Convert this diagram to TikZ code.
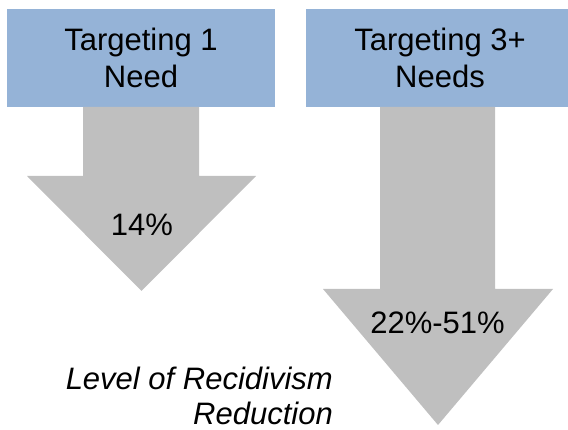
\documentclass[tikz,border=0pt]{standalone}
\usepackage{fontspec}
\setmainfont{Liberation Sans}
\usetikzlibrary{positioning}
\definecolor{needblue}{HTML}{95B3D7}
\definecolor{cutgrey}{HTML}{BFBFBF}
\begin{document}
\begin{tikzpicture}[x=1pt,y=-1pt]
	\tikzset{
		needbox/.style={fill=needblue,minimum width=268pt,minimum height=98pt,inner sep=0pt,align=center,font=\fontsize{31}{37}\selectfont},
		pct/.style={inner sep=0pt,anchor=base,font=\fontsize{31}{36}\selectfont},
		downarrow/.style={fill=cutgrey},
	}
	\useasboundingbox (0,0) rectangle (568,430);
	\node[needbox] (one) at (141,58) {Targeting 1\\Need};
	\node[needbox] (three) at (440,58) {Targeting 3+\\Needs};
	\fill[downarrow] (83,107) -- (83,176) -- (27,176) -- (141.5,291) -- (256,176) -- (199,176) -- (199,107) -- cycle;
	\fill[downarrow] (380,107) -- (380,289) -- (323,289) -- (438,425) -- (553,289) -- (495,289) -- (495,107) -- cycle;
	\node[pct] (cut1) at (142,236) {14\%};
	\node[pct] (cut3) at (437.5,334) {22\%-51\%};
	\node[inner sep=0pt,align=right,anchor=south east,font=\fontsize{31}{35}\selectfont\itshape] (level) at (333,425) {Level of Recidivism\\Reduction};
\end{tikzpicture}
\end{document}
